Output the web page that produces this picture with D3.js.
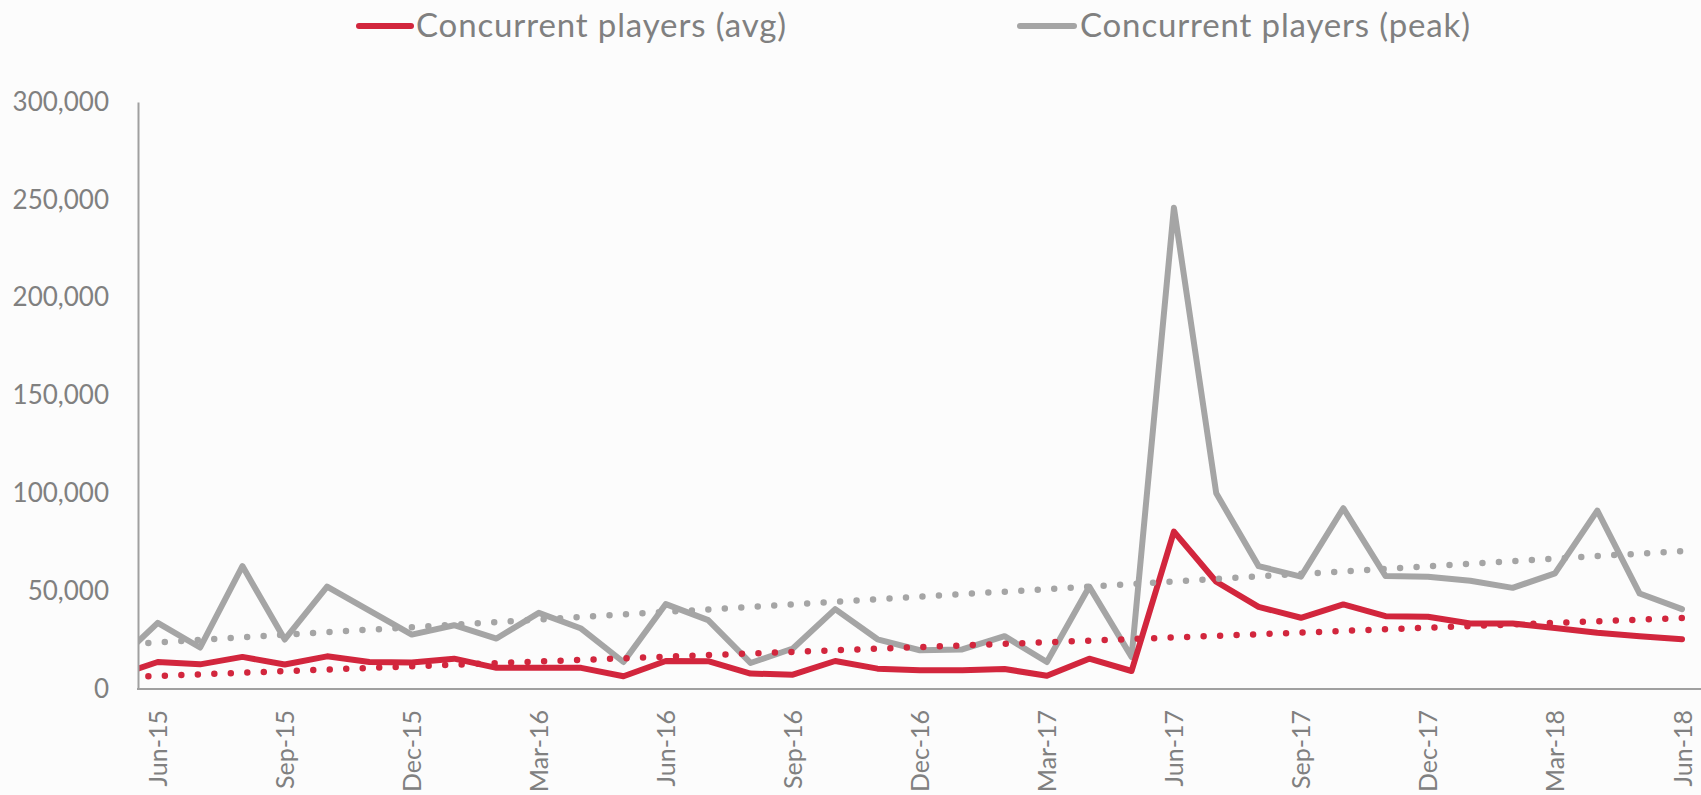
<!DOCTYPE html>
<html>
<head>
<meta charset="utf-8">
<script src="https://cdn.jsdelivr.net/npm/d3@7"></script>
<style>
  html, body { margin: 0; padding: 0; background: #fcfcfc; }
  svg { display: block; }
</style>
</head>
<body>
<script>
// monthly data, May-15 sits left of the axis and is clipped like in the original
let months = ["May-15","Jun-15","Jul-15","Aug-15","Sep-15","Oct-15","Nov-15","Dec-15",
  "Jan-16","Feb-16","Mar-16","Apr-16","May-16","Jun-16","Jul-16","Aug-16","Sep-16","Oct-16","Nov-16","Dec-16",
  "Jan-17","Feb-17","Mar-17","Apr-17","May-17","Jun-17","Jul-17","Aug-17","Sep-17","Oct-17","Nov-17","Dec-17",
  "Jan-18","Feb-18","Mar-18","Apr-18","May-18","Jun-18"];
let avgPlayers = [6600,13800,12600,16400,12500,16700,13800,13500,
  15500,10800,10900,10800,6500,14300,14200,7900,7300,14300,10400,9600,
  9600,10200,6800,15500,9200,80400,54800,42000,36400,43200,37200,36900,
  33500,33500,31200,28700,27000,25400];
let peakPlayers = [13300,33800,21200,62800,25300,52300,40000,27800,
  32600,25800,38900,30900,13800,43400,35200,13300,20700,40800,25400,19800,
  20200,27000,13800,52300,16400,246000,100000,62800,57400,92400,57700,57400,
  55300,51700,59100,91200,48800,40800];
let xTickLabels = ["Jun-15","Sep-15","Dec-15","Mar-16","Jun-16","Sep-16","Dec-16",
  "Mar-17","Jun-17","Sep-17","Dec-17","Mar-18","Jun-18"];
let yTicks = [0, 50000, 100000, 150000, 200000, 250000, 300000];
let seriesNames = ["Concurrent players (avg)", "Concurrent players (peak)"];

let size = {width: 1701, height: 795};
let plot = {left: 138, top: 102, right: 1701, bottom: 689};
let red = "#d2263d", grey = "#a5a5a5", textCol = "#808080", axisCol = "#a0a0a0";
let font = "Lato, 'Open Sans', sans-serif";

let svg = d3.select("body").append("svg")
    .attr("width", size.width).attr("height", size.height);

let x = d3.scalePoint().domain(months).range([115.4, 1682]);
let y = d3.scaleLinear().domain([0, 300000]).range([plot.bottom, plot.top]);

svg.append("clipPath").attr("id", "plotClip")
  .append("rect")
    .attr("x", plot.left).attr("y", plot.top - 20)
    .attr("width", plot.right - plot.left).attr("height", plot.bottom - plot.top + 20);

// least squares trend, like excel's linear trendline
function trend(vals) {
  let mx = d3.mean(vals, (v, i) => i), my = d3.mean(vals);
  let sxy = d3.sum(vals, (v, i) => (i - mx) * (v - my));
  let sxx = d3.sum(vals, (v, i) => (i - mx) * (i - mx));
  let b = sxy / sxx, a = my - b * mx;
  return vals.map((v, i) => a + b * i);
}

let line = d3.line()
    .x((d, i) => x(months[i]))
    .y(d => y(d));

let g = svg.append("g").attr("clip-path", "url(#plotClip)");

g.append("path").datum(peakPlayers)
    .attr("d", line).attr("fill", "none")
    .attr("stroke", grey).attr("stroke-width", 6)
    .attr("stroke-linejoin", "round").attr("stroke-linecap", "round");
g.append("path").datum(avgPlayers)
    .attr("d", line).attr("fill", "none")
    .attr("stroke", red).attr("stroke-width", 6)
    .attr("stroke-linejoin", "round").attr("stroke-linecap", "round");

g.append("path").datum(trend(peakPlayers))
    .attr("d", line).attr("fill", "none")
    .attr("stroke", grey).attr("stroke-width", 6.5)
    .attr("stroke-linecap", "round").attr("stroke-dasharray", "0 16.5");
g.append("path").datum(trend(avgPlayers))
    .attr("d", line).attr("fill", "none")
    .attr("stroke", red).attr("stroke-width", 6.5)
    .attr("stroke-linecap", "round").attr("stroke-dasharray", "0 16.5");

// y axis
let yAxis = svg.append("g")
    .attr("transform", `translate(${plot.left},0)`)
    .call(d3.axisLeft(y).tickValues(yTicks).tickFormat(d3.format(","))
      .tickSize(0).tickSizeOuter(0).tickPadding(29));
yAxis.select(".domain").attr("stroke", axisCol).attr("stroke-width", 2);
yAxis.selectAll("text")
    .attr("fill", textCol).style("font-family", font).style("font-size", "26px");

// x axis
let xAxis = svg.append("g")
    .attr("transform", `translate(0,${plot.bottom})`)
    .call(d3.axisBottom(x).tickValues(xTickLabels).tickSize(0).tickSizeOuter(0));
xAxis.select(".domain").remove();
xAxis.append("line")
    .attr("x1", plot.left - 1).attr("x2", plot.right)
    .attr("stroke", axisCol).attr("stroke-width", 2);
xAxis.selectAll(".tick text")
    .attr("transform", "rotate(-90)")
    .attr("text-anchor", "end")
    .attr("x", -21).attr("y", 0).attr("dy", "0.36em")
    .attr("fill", textCol).style("font-family", font).style("font-size", "25px");

// legend
let legend = [
  {name: seriesNames[0], color: red, x0: 359, x1: 411, tx: 416, w: 370},
  {name: seriesNames[1], color: grey, x0: 1020, x1: 1074, tx: 1080, w: 390}
];
let lg = svg.append("g").selectAll("g").data(legend).join("g");
lg.append("line")
    .attr("x1", d => d.x0).attr("x2", d => d.x1)
    .attr("y1", 26).attr("y2", 26)
    .attr("stroke", d => d.color).attr("stroke-width", 6).attr("stroke-linecap", "round");
lg.append("text")
    .attr("x", d => d.tx).attr("y", 37)
    .attr("textLength", d => d.w)
    .attr("fill", textCol)
    .style("font-family", font).style("font-size", "33px")
    .text(d => d.name);
</script>
</body>
</html>
